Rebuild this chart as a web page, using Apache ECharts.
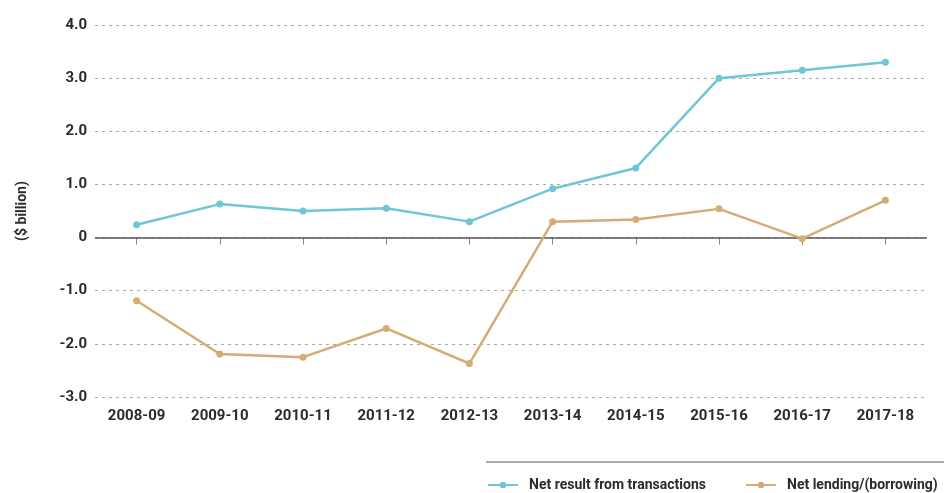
<!DOCTYPE html>
<html>
<head>
<meta charset="utf-8">
<script src="https://cdn.jsdelivr.net/npm/echarts@6/dist/echarts.min.js"></script>
<style>
  html, body { margin: 0; padding: 0; background: #fff; }
  #chart { width: 944px; height: 493px; }
</style>
</head>
<body>
<div id="chart"></div>
<script>
const years = ['2008-09', '2009-10', '2010-11', '2011-12', '2012-13', '2013-14', '2014-15', '2015-16', '2016-17', '2017-18']
const netResult = [0.24, 0.63, 0.50, 0.55, 0.30, 0.92, 1.31, 3.00, 3.15, 3.30]
const netLending = [-1.19, -2.19, -2.25, -1.71, -2.37, 0.30, 0.34, 0.54, -0.02, 0.70]
const seriesNames = ['Net result from transactions', 'Net lending/(borrowing)']

const font = 'Roboto, sans-serif'
const textColor = '#2b2b2b'

const legendText = { fontFamily: font, fontSize: 14, fontWeight: 'bold', color: textColor, padding: [0, 0, 0, 6] }

const chart = echarts.init(document.getElementById('chart'))

chart.setOption({
  animation: false,
  textStyle: { fontFamily: font },
  grid: { left: 95, right: 17, top: 25, bottom: 96 },
  legend: [
    {
      left: 487,
      top: 478,
      padding: 0,
      itemWidth: 30,
      itemHeight: 8,
      textStyle: legendText,
      data: [seriesNames[0]]
    },
    {
      left: 745,
      top: 478,
      padding: 0,
      itemWidth: 30,
      itemHeight: 8,
      textStyle: legendText,
      data: [seriesNames[1]]
    }
  ],
  graphic: [
    {
      type: 'line',
      shape: { x1: 486, y1: 462, x2: 944, y2: 462 },
      style: { stroke: '#555', lineWidth: 1 }
    }
  ],
  xAxis: {
    type: 'category',
    data: years,
    boundaryGap: true,
    axisLine: { show: false },
    axisTick: { show: true, alignWithLabel: true, length: 7, lineStyle: { color: '#888' } },
    axisLabel: { fontFamily: font, fontSize: 15, fontWeight: 'bold', color: textColor, margin: 12 }
  },
  yAxis: {
    type: 'value',
    min: -3,
    max: 4,
    interval: 1,
    name: '($ billion)',
    nameLocation: 'middle',
    nameGap: 66,
    nameRotate: 90,
    nameTextStyle: { fontFamily: font, fontSize: 14, fontWeight: 'bold', color: textColor },
    axisLine: { show: false },
    axisTick: { show: false },
    axisLabel: {
      fontFamily: font,
      fontSize: 15,
      fontWeight: 'bold',
      color: textColor,
      margin: 8,
      formatter: v => (v === 0 ? '0' : v.toFixed(1))
    },
    splitLine: { lineStyle: { color: '#aaa', type: [3, 4], width: 1 } }
  },
  series: [
    {
      name: seriesNames[0],
      type: 'line',
      data: netResult,
      symbol: 'circle',
      symbolSize: 7,
      lineStyle: { color: '#6ec6d6', width: 2.5 },
      itemStyle: { color: '#6ec6d6' },
      z: 3,
      markLine: {
        silent: true,
        symbol: 'none',
        label: { show: false },
        lineStyle: { color: '#555', type: 'solid', width: 1.5 },
        data: [{ yAxis: 0 }],
        z: 1
      }
    },
    {
      name: seriesNames[1],
      type: 'line',
      data: netLending,
      symbol: 'circle',
      symbolSize: 7,
      lineStyle: { color: '#d4ad75', width: 2.5 },
      itemStyle: { color: '#d4ad75' },
      z: 3
    }
  ]
})

window.addEventListener('resize', () => chart.resize())
</script>
</body>
</html>
